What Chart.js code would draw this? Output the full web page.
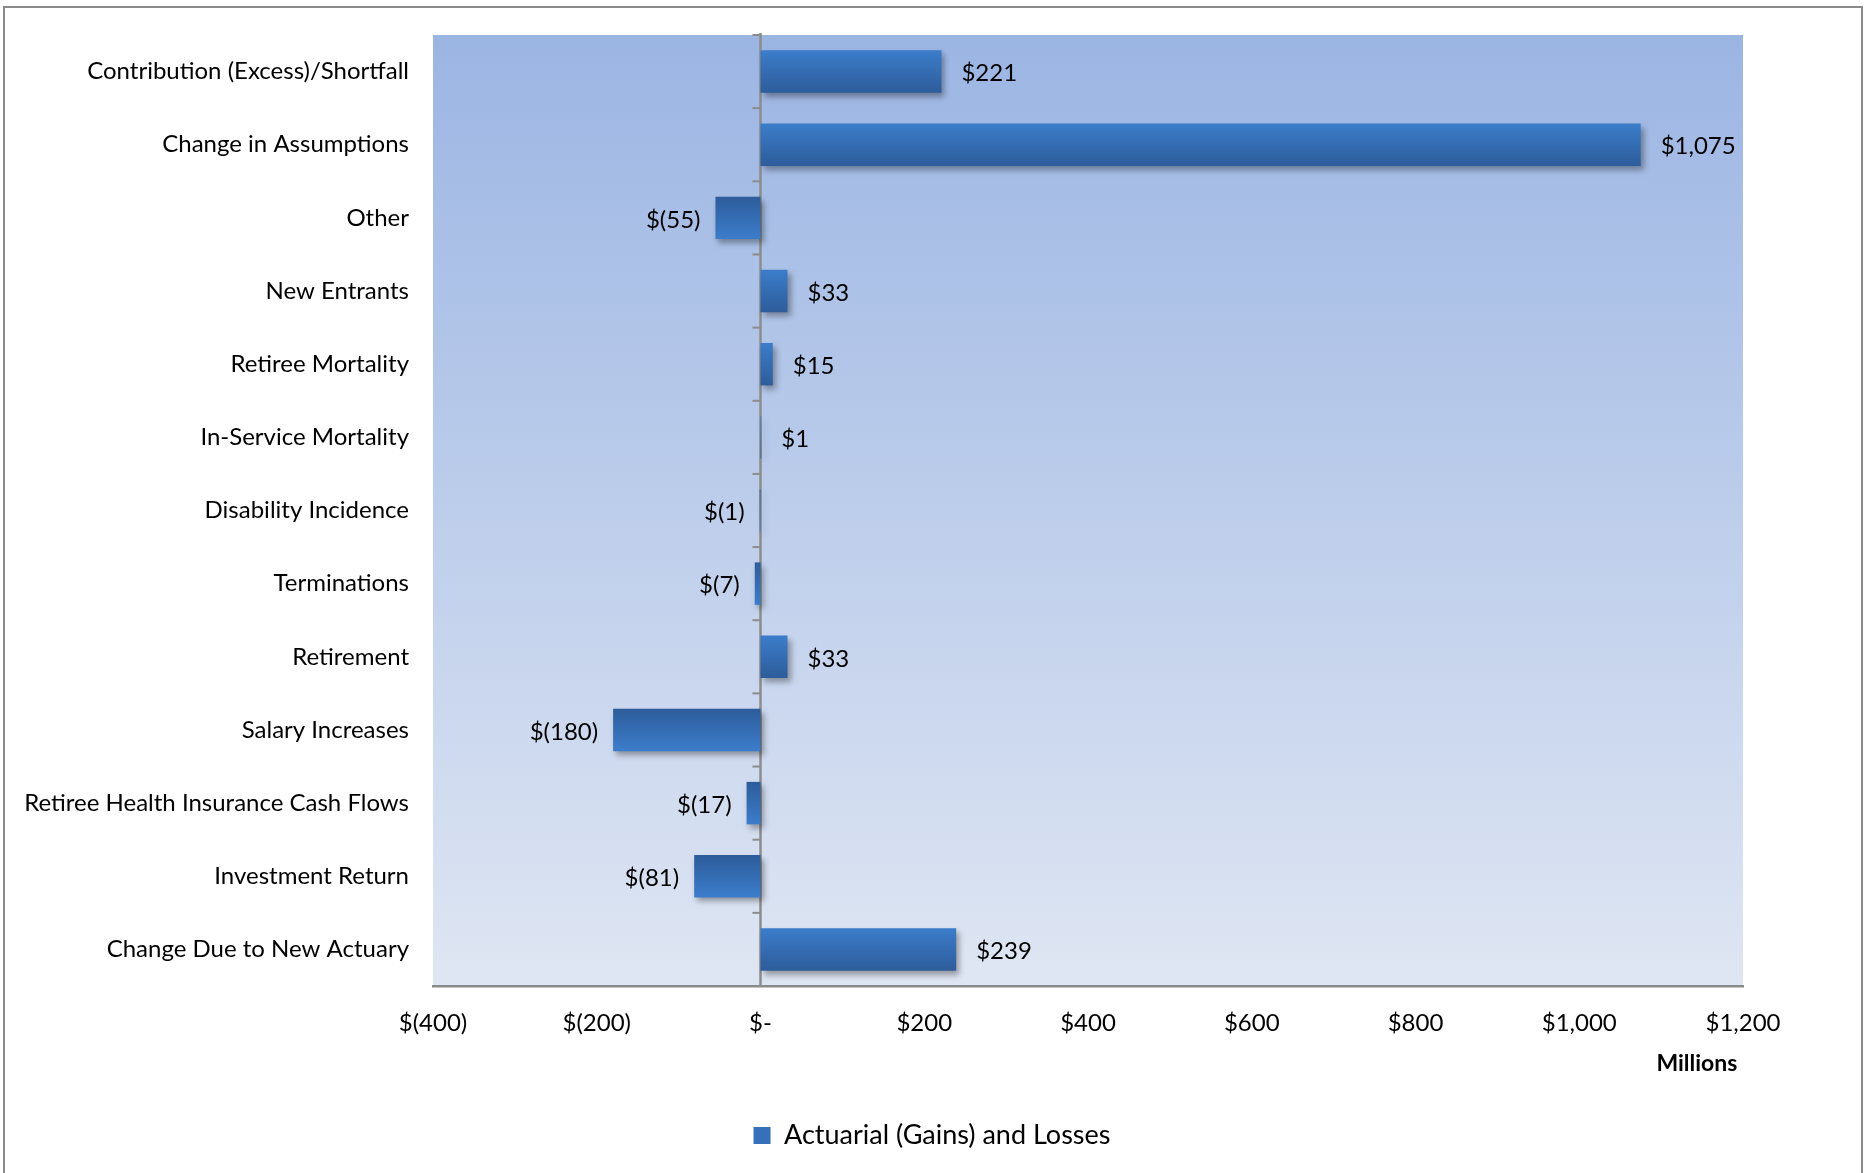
<!DOCTYPE html>
<html>
<head>
<meta charset="utf-8">
<script src="https://cdn.jsdelivr.net/npm/chart.js@4.4.1/dist/chart.umd.min.js"></script>
<style>
html,body{margin:0;padding:0;background:#fff;}
canvas{display:block;}
</style>
</head>
<body>
<canvas id="c" width="1864" height="1173"></canvas>
<script>
const categories = [
  'Contribution (Excess)/Shortfall',
  'Change in Assumptions',
  'Other',
  'New Entrants',
  'Retiree Mortality',
  'In-Service Mortality',
  'Disability Incidence',
  'Terminations',
  'Retirement',
  'Salary Increases',
  'Retiree Health Insurance Cash Flows',
  'Investment Return',
  'Change Due to New Actuary'
];
const values = [221, 1075, -55, 33, 15, 1, -1, -7, 33, -180, -17, -81, 239];
const seriesName = 'Actuarial (Gains) and Losses';
const xTickLabels = ['$(400)', '$(200)', '$-', '$200', '$400', '$600', '$800', '$1,000', '$1,200'];
const axisTitle = 'Millions';

const FONT = 'Lato, "Open Sans", sans-serif';

function fmt(v) {
  const a = Math.abs(v).toLocaleString('en-US');
  return v < 0 ? '$(' + a + ')' : '$' + a;
}

const decor = {
  id: 'decor',
  beforeDraw(chart) {
    const ctx = chart.ctx, a = chart.chartArea;
    ctx.save();
    ctx.strokeStyle = '#8a8a8a';
    ctx.lineWidth = 2;
    ctx.strokeRect(4, 7, 1858, 1200);
    const g = ctx.createLinearGradient(0, a.top, 0, a.bottom);
    g.addColorStop(0, '#9BB5E3');
    g.addColorStop(1, '#DFE6F3');
    ctx.fillStyle = g;
    ctx.fillRect(a.left, a.top, a.right - a.left, a.bottom - a.top);
    ctx.restore();
  },
  beforeDatasetsDraw(chart) {
    const ctx = chart.ctx, a = chart.chartArea;
    const x0 = chart.scales.x.getPixelForValue(0);
    const y = chart.scales.y;
    const step = y.getPixelForValue(1) - y.getPixelForValue(0);
    ctx.save();
    ctx.strokeStyle = '#8c8c8c';
    ctx.lineWidth = 2.5;
    ctx.beginPath();
    ctx.moveTo(x0, a.top - 2);
    ctx.lineTo(x0, a.bottom);
    ctx.stroke();
    ctx.lineWidth = 2;
    const n = categories.length;
    for (let i = 0; i <= n; i++) {
      const yy = i < n ? y.getPixelForValue(i) - step / 2 : y.getPixelForValue(n - 1) + step / 2;
      ctx.beginPath();
      ctx.moveTo(x0 - 8, yy);
      ctx.lineTo(x0, yy);
      ctx.stroke();
    }
    ctx.restore();
  },
  beforeDatasetDraw(chart, args) {
    const ctx = chart.ctx;
    const meta = args.meta;
    meta.data.forEach((el, i) => {
      const h = el.height;
      const g = ctx.createLinearGradient(0, el.y - h / 2, 0, el.y + h / 2);
      if (values[i] >= 0) {
        g.addColorStop(0, '#3C7DCB');
        g.addColorStop(1, '#2D5C9A');
      } else {
        g.addColorStop(0, '#2D5C9A');
        g.addColorStop(1, '#3C7DCB');
      }
      el.options.backgroundColor = g;
    });
    ctx.save();
    ctx.shadowColor = 'rgba(0,0,0,0.35)';
    ctx.shadowBlur = 6;
    ctx.shadowOffsetX = 3;
    ctx.shadowOffsetY = 4;
  },
  afterDatasetDraw(chart) {
    chart.ctx.restore();
  },
  afterDatasetsDraw(chart) {
    const ctx = chart.ctx;
    const meta = chart.getDatasetMeta(0);
    ctx.save();
    ctx.font = '24px ' + FONT;
    ctx.fillStyle = '#000';
    ctx.textBaseline = 'middle';
    meta.data.forEach((el, i) => {
      const v = values[i];
      if (v >= 0) {
        ctx.textAlign = 'left';
        ctx.fillText(fmt(v), el.x + 20, el.y + 2);
      } else {
        ctx.textAlign = 'right';
        ctx.fillText(fmt(v), el.x - 15, el.y + 2);
      }
    });
    ctx.restore();
  }
};

new Chart(document.getElementById('c'), {
  type: 'bar',
  data: {
    labels: categories,
    datasets: [{
      label: seriesName,
      data: values,
      backgroundColor: (c) => '#3670B8',
      borderWidth: 0,
      categoryPercentage: 1,
      barPercentage: 0.58
    }]
  },
  options: {
    indexAxis: 'y',
    responsive: false,
    animation: false,
    devicePixelRatio: 1,
    layout: { padding: { top: 35, right: 0, left: 0, bottom: 14 } },
    scales: {
      x: {
        min: -400, max: 1200,
        ticks: {
          stepSize: 200,
          padding: 23,
          color: '#000',
          font: { family: FONT, size: 24 },
          callback: (v, i) => xTickLabels[i]
        },
        grid: { display: false, drawTicks: false },
        border: { display: true, color: '#8a8a8a', width: 2.5 },
        title: {
          display: true, text: axisTitle + '\u00a0', align: 'end', color: '#000',
          font: { family: FONT, size: 23, weight: 'bold' },
          padding: { top: 0, bottom: 35 }
        },
        afterFit: (s) => { s.height = 126; }
      },
      y: {
        ticks: {
          padding: 24,
          color: '#000',
          font: { family: FONT, size: 24 }
        },
        grid: { display: false, drawTicks: false },
        border: { display: false },
        afterFit: (s) => { s.width = 433; s.paddingTop = 0; s.paddingBottom = 0; }
      },
      yRight: {
        type: 'category',
        position: 'right',
        display: true,
        ticks: { display: false },
        grid: { display: false, drawTicks: false },
        border: { display: false },
        afterFit: (s) => { s.width = 121; s.paddingTop = 0; s.paddingBottom = 0; }
      }
    },
    plugins: {
      legend: {
        position: 'bottom',
        labels: {
          boxWidth: 17, boxHeight: 17, padding: 10,
          color: '#000',
          font: { family: FONT, size: 27 },
          generateLabels: (chart) => [{
            text: seriesName,
            fillStyle: '#3670B8',
            strokeStyle: '#3670B8',
            lineWidth: 0,
            hidden: false,
            datasetIndex: 0
          }]
        }
      },
      tooltip: { enabled: false }
    }
  },
  plugins: [decor]
});
</script>
</body>
</html>
